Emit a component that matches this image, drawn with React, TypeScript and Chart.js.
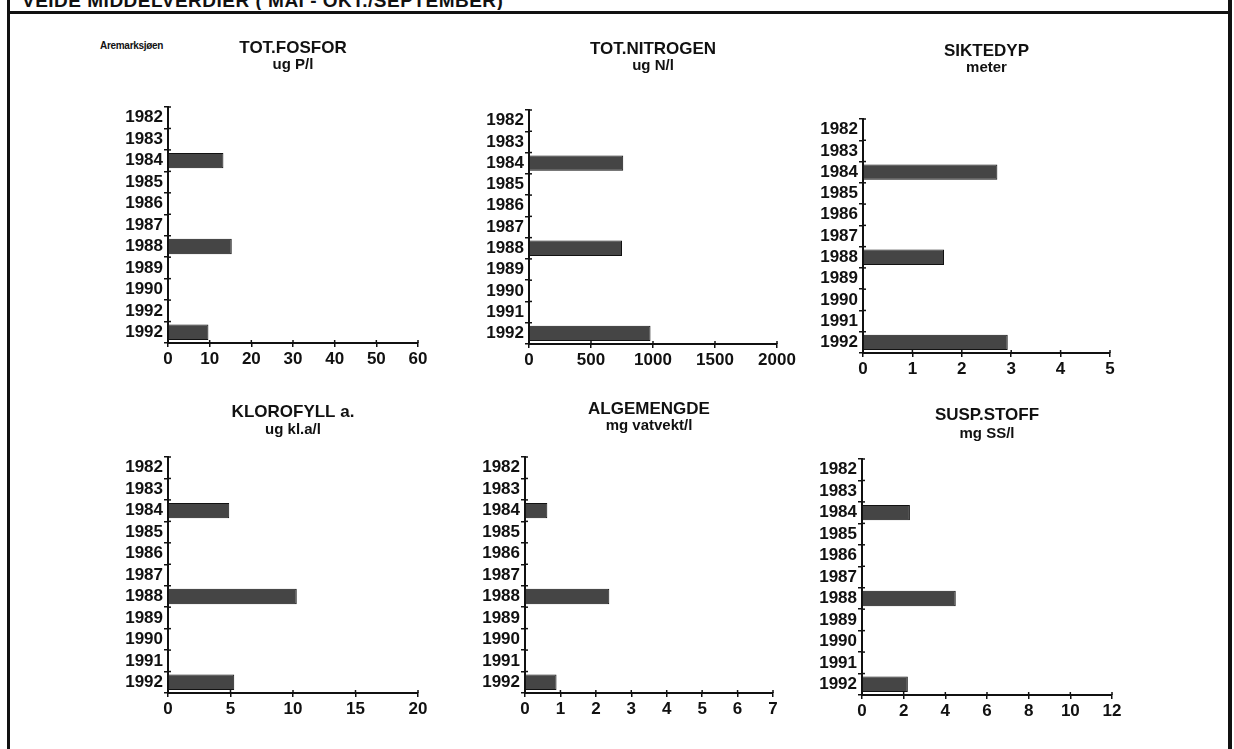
import React, { useEffect, useRef } from "react";
import { Chart, registerables } from "chart.js";

Chart.register(...registerables);

// ---------- DATA ----------
const YEARS_FOSFOR = ["1982", "1983", "1984", "1985", "1986", "1987", "1988", "1989", "1990", "1992", "1992"];
const YEARS = ["1982", "1983", "1984", "1985", "1986", "1987", "1988", "1989", "1990", "1991", "1992"];

const TOT_FOSFOR = [null, null, 13.3, null, null, null, 15.3, null, null, null, 9.7];
const TOT_NITROGEN = [null, null, 760, null, null, null, 750, null, null, null, 980];
const SIKTEDYP = [null, null, 2.72, null, null, null, 1.64, null, null, null, 2.93];
const KLOROFYLL = [null, null, 4.9, null, null, null, 10.3, null, null, null, 5.3];
const ALGEMENGDE = [null, null, 0.63, null, null, null, 2.38, null, null, null, 0.89];
const SUSP_STOFF = [null, null, 2.3, null, null, null, 4.5, null, null, null, 2.2];

const TITLES = ["TOT.FOSFOR", "TOT.NITROGEN", "SIKTEDYP", "KLOROFYLL a.", "ALGEMENGDE", "SUSP.STOFF"];
const UNITS = ["ug P/l", "ug N/l", "meter", "ug kl.a/l", "mg vatvekt/l", "mg SS/l"];
const AXIS_MAX = [60, 2000, 5, 20, 7, 12];
const AXIS_STEP = [10, 500, 1, 5, 1, 2];

const HEADER = "VEIDE MIDDELVERDIER ( MAI - OKT./SEPTEMBER)";
const LAKE = "Aremarksjøen";

// ---------- LAYOUT ----------
const FONT = "'Liberation Sans', Arial, Helvetica, sans-serif";
const Y_AXIS_W = 60;
const X_AXIS_H = 32;
const RIGHT_PAD = 22;
const INK = "#111111";

type PanelLayout = { L: number; R: number; T: number; B: number; top: number; b1: number; b2: number };

const PANELS: PanelLayout[] = [
  { L: 168, R: 418, T: 107, B: 343, top: 40, b1: 0, b2: 35 },
  { L: 529, R: 777, T: 110, B: 344, top: 41, b1: 0, b2: 37 },
  { L: 863, R: 1110, T: 119, B: 353, top: 43, b1: 0, b2: 44 },
  { L: 168, R: 418, T: 457, B: 693, top: 404, b1: 1, b2: 20 },
  { L: 525, R: 773, T: 457, B: 693, top: 401, b1: 0, b2: 24 },
  { L: 862, R: 1112, T: 459, B: 695, top: 407, b1: 2, b2: 18 },
];

const LABEL_SETS = [YEARS_FOSFOR, YEARS, YEARS, YEARS, YEARS, YEARS];
const VALUE_SETS = [TOT_FOSFOR, TOT_NITROGEN, SIKTEDYP, KLOROFYLL, ALGEMENGDE, SUSP_STOFF];

// small tick marks on the plot side of each axis, so ticks cross the axis line
const crossTicks = {
  id: "crossTicks",
  afterDraw(chart: any) {
    const { ctx, chartArea, scales } = chart;
    ctx.save();
    ctx.strokeStyle = INK;
    ctx.lineWidth = 1.5;
    const y = scales.y;
    const n = y.ticks.length;
    for (let i = 0; i <= n; i++) {
      const py = y.getPixelForTick(0) + (i - 0.5) * (y.getPixelForTick(1) - y.getPixelForTick(0));
      ctx.beginPath();
      ctx.moveTo(chartArea.left, py);
      ctx.lineTo(chartArea.left + 3, py);
      ctx.stroke();
    }
    const x = scales.x;
    x.ticks.forEach((_: any, i: number) => {
      const px = x.getPixelForTick(i);
      ctx.beginPath();
      ctx.moveTo(px, chartArea.bottom);
      ctx.lineTo(px, chartArea.bottom - 3);
      ctx.stroke();
    });
    ctx.restore();
  },
};

function Panel({ idx }: { idx: number }) {
  const ref = useRef<HTMLCanvasElement>(null);
  const p = PANELS[idx];
  const width = p.R - p.L + Y_AXIS_W + RIGHT_PAD;
  const height = p.B - p.top + X_AXIS_H;

  useEffect(() => {
    if (!ref.current) return;
    const tickFont = { family: FONT, size: 17, weight: "bold" as const };
    const chart = new Chart(ref.current, {
      type: "bar",
      data: {
        labels: LABEL_SETS[idx],
        datasets: [
          {
            data: VALUE_SETS[idx] as any,
            backgroundColor: "#454545",
            borderColor: "#111111",
            borderWidth: 1,
            barPercentage: 0.72,
            categoryPercentage: 1,
          },
        ],
      },
      plugins: [crossTicks],
      options: {
        indexAxis: "y",
        responsive: false,
        animation: false,
        devicePixelRatio: 1,
        layout: { padding: { left: 0, right: RIGHT_PAD, top: 0, bottom: 0 } },
        plugins: {
          legend: { display: false },
          tooltip: { enabled: false },
          title: {
            display: true,
            text: TITLES[idx],
            fullSize: false,
            color: INK,
            font: { family: FONT, size: 17, weight: "bold", lineHeight: 1 },
            padding: { top: 0, bottom: p.b1 },
          },
          subtitle: {
            display: true,
            text: UNITS[idx],
            fullSize: false,
            color: INK,
            font: { family: FONT, size: 15, weight: "bold", lineHeight: 1 },
            padding: { top: 0, bottom: p.b2 },
          },
        },
        scales: {
          x: {
            type: "linear",
            min: 0,
            max: AXIS_MAX[idx],
            ticks: {
              stepSize: AXIS_STEP[idx],
              color: INK,
              font: tickFont,
              padding: 2,
              maxRotation: 0,
              autoSkip: false,
              callback: (v: any) => String(v),
            },
            grid: { drawOnChartArea: false, color: INK, lineWidth: 1.5, tickLength: 4 },
            border: { display: true, color: INK, width: 2 },
            afterFit: (s: any) => {
              s.height = X_AXIS_H;
              s.paddingLeft = 0;
              s.paddingRight = 0;
            },
          },
          y: {
            type: "category",
            offset: true,
            ticks: { color: INK, font: tickFont, padding: 1, autoSkip: false },
            grid: { offset: true, drawOnChartArea: false, color: INK, lineWidth: 1.5, tickLength: 4 },
            border: { display: true, color: INK, width: 2 },
            afterFit: (s: any) => {
              s.width = Y_AXIS_W;
              s.paddingTop = 0;
              s.paddingBottom = 0;
            },
          },
        },
      },
    });
    return () => chart.destroy();
  }, [idx]);

  return (
    <canvas
      ref={ref}
      width={width}
      height={height}
      style={{ position: "absolute", left: p.L - Y_AXIS_W, top: p.top, width, height }}
    />
  );
}

export default function App() {
  return (
    <div
      style={{
        position: "absolute",
        left: 0,
        top: 0,
        width: 1234,
        height: 749,
        background: "#ffffff",
        overflow: "hidden",
        fontFamily: FONT,
      }}
    >
      {/* header, cut at the top like the scan */}
      <div style={{ position: "absolute", left: 22, top: 0, width: 1000, height: 10, overflow: "hidden" }}>
        <div
          style={{
            position: "absolute",
            left: 0,
            top: -10,
            fontSize: 19,
            fontWeight: "bold",
            color: INK,
            whiteSpace: "nowrap",
            letterSpacing: 0.5,
          }}
        >
          {HEADER}
        </div>
      </div>
      {/* frame */}
      <div style={{ position: "absolute", left: 7, top: 0, width: 3, height: 749, background: INK }} />
      <div style={{ position: "absolute", left: 1228, top: 0, width: 4, height: 749, background: INK }} />
      <div style={{ position: "absolute", left: 7, top: 11, width: 1225, height: 3, background: INK }} />
      {/* small lake name */}
      <div
        style={{
          position: "absolute",
          left: 100,
          top: 40,
          fontSize: 10,
          fontWeight: "bold",
          color: INK,
          whiteSpace: "nowrap",
          letterSpacing: -0.3,
        }}
      >
        {LAKE}
      </div>
      {PANELS.map((_, i) => (
        <Panel key={i} idx={i} />
      ))}
    </div>
  );
}
